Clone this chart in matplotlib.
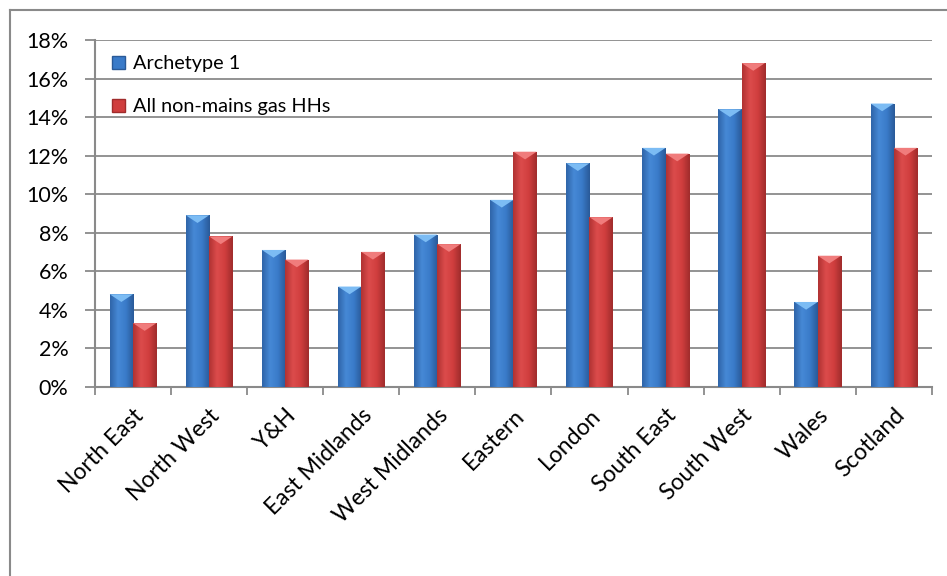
import numpy as np
import matplotlib.pyplot as plt
from matplotlib.colors import LinearSegmentedColormap
from matplotlib.patches import Patch, Polygon
from matplotlib.ticker import FuncFormatter

plt.rcParams['font.family'] = ['Lato', 'DejaVu Sans']

regions = ['North East', 'North West', 'Y&H', 'East Midlands', 'West Midlands',
           'Eastern', 'London', 'South East', 'South West', 'Wales', 'Scotland']
archetype_1 = [4.8, 8.9, 7.1, 5.2, 7.9, 9.7, 11.6, 12.4, 14.4, 4.4, 14.7]
all_non_mains = [3.3, 7.8, 6.6, 7.0, 7.4, 12.2, 8.8, 12.1, 16.8, 6.8, 12.4]

series_names = ['Archetype 1', 'All non-mains gas HHs']
# left edge -> light -> mid -> dark right edge
blue_shades = ['#2f64a8', '#4689d6', '#3a7bc9', '#2a5a98']
red_shades = ['#b03232', '#dc4c4c', '#d03e3e', '#a02c2c']
bevel_colors = ['#7cbcf4', '#f07c7c']


def shaded_bar(ax, x0, width, height, shades, bevel):
    cmap = LinearSegmentedColormap.from_list('bar', shades)
    grad = np.linspace(0, 1, 64).reshape(1, -1)
    rect = plt.Rectangle((x0, 0), width, height, facecolor=shades[2],
                         edgecolor='none', zorder=3)
    ax.add_patch(rect)
    img = ax.imshow(grad, extent=[x0, x0 + width, 0, height], aspect='auto',
                    cmap=cmap, zorder=3.1, interpolation='bicubic')
    img.set_clip_path(rect)
    depth = 0.4
    tri = Polygon([(x0, height), (x0 + width, height),
                   (x0 + width * 0.5, height - depth)],
                  closed=True, facecolor=bevel, edgecolor='none', zorder=3.2)
    ax.add_patch(tri)


fig = plt.figure(figsize=(9.47, 5.76), dpi=100)
ax = fig.add_axes([0.1003, 0.3286, 0.8837, 0.602])

x = np.arange(len(regions))
w = 0.306
for i in range(len(regions)):
    shaded_bar(ax, x[i] - w, w, archetype_1[i], blue_shades, bevel_colors[0])
    shaded_bar(ax, x[i], w, all_non_mains[i], red_shades, bevel_colors[1])

ax.set_xlim(-0.5, len(regions) - 0.5)
ax.set_ylim(0, 18)
ax.set_yticks(np.arange(0, 19, 2))
ax.yaxis.set_major_formatter(FuncFormatter(lambda v, p: f'{v:.0f}%'))
ax.grid(axis='y', color='#8a8a8a', linewidth=1.3, zorder=1)
ax.set_axisbelow(True)

ax.set_xticks(x)
ax.set_xticklabels(regions, rotation=45, ha='right', va='top',
                   rotation_mode='anchor', fontsize=16.5)
ax.set_xticks(np.arange(-0.5, len(regions), 1), minor=True)
ax.tick_params(axis='x', which='major', length=0, pad=13)
ax.tick_params(axis='x', which='minor', length=6, width=1.3, color='#8a8a8a')
ax.tick_params(axis='y', length=7, width=1.3, color='#8a8a8a', pad=12,
               labelsize=15.5)

for side in ['top', 'right']:
    ax.spines[side].set_visible(False)
for side in ['left', 'bottom']:
    ax.spines[side].set_color('#8a8a8a')
    ax.spines[side].set_linewidth(1.5)

handles = [Patch(facecolor=blue_shades[2], edgecolor='#2a5a98'),
           Patch(facecolor=red_shades[2], edgecolor='#a02c2c')]
ax.legend(handles, series_names, loc='upper left', bbox_to_anchor=(0.006, 0.99),
          frameon=False, fontsize=14.3, handlelength=0.65, handleheight=0.65,
          handletextpad=0.4, labelspacing=1.3, borderaxespad=0.2)

# outer chart border (top and left edges visible)
fig.add_artist(plt.Line2D([9.5 / 947, 1], [1 - 9.5 / 576] * 2, color='#8a8a8a',
                          linewidth=1.5, transform=fig.transFigure))
fig.add_artist(plt.Line2D([9.5 / 947] * 2, [0, 1 - 9.5 / 576], color='#8a8a8a',
                          linewidth=1.5, transform=fig.transFigure))

fig.savefig('out.png', dpi=100)
